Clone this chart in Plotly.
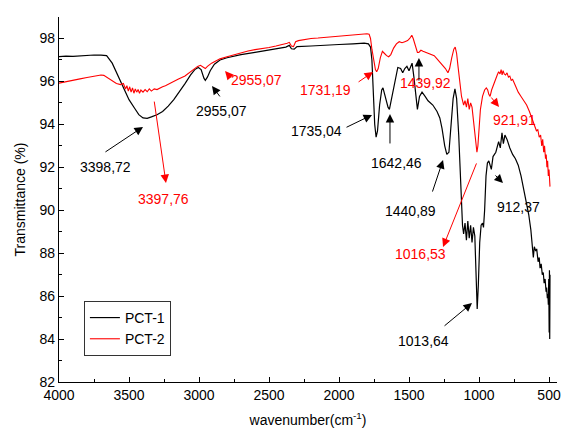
import plotly.graph_objects as go

# ---------------- data ----------------
pct1_wn = [4000, 3950, 3900, 3850, 3800, 3750, 3700, 3660, 3620, 3580, 3540, 3500, 3460, 3430,
           3400, 3370, 3340, 3300, 3260, 3220, 3180, 3140, 3100, 3060, 3030, 3005, 2985, 2965,
           2955, 2940, 2920, 2890, 2850, 2800, 2700, 2600, 2500, 2420, 2380, 2355, 2340, 2320,
           2300, 2200, 2100, 2000, 1900, 1820, 1790, 1775, 1765, 1755, 1745, 1735, 1725, 1710,
           1695, 1686, 1670, 1650, 1640, 1625, 1600, 1580, 1560, 1545, 1530, 1515, 1500, 1490,
           1478, 1465, 1450, 1440, 1425, 1407, 1385, 1364, 1330, 1300, 1280, 1264, 1245, 1230,
           1215, 1200, 1185, 1172, 1160, 1145, 1130, 1118, 1110, 1100, 1090, 1080, 1070, 1060,
           1050, 1040, 1030, 1020, 1013, 1005, 995, 985, 975, 968, 960, 950, 940, 930, 920, 912,
           900, 880, 860, 848, 836, 826, 815, 800, 780, 760, 740, 720, 700, 680, 660, 645, 630,
           620, 612, 605, 595, 588, 578, 570, 564, 556, 548, 541, 535, 528, 521, 517, 512, 508,
           505, 502, 499, 497, 495, 493]
pct1_t = [97.15, 97.18, 97.17, 97.2, 97.22, 97.23, 97.22, 97.2, 96.85, 96.3, 95.7, 95.15, 94.75, 94.45,
          94.3, 94.28, 94.35, 94.45, 94.6, 94.85, 95.15, 95.5, 95.9, 96.3, 96.55, 96.65, 96.55, 96.15,
          96.05, 96.2, 96.5, 96.8, 97.0, 97.1, 97.25, 97.35, 97.45, 97.55, 97.6, 97.68, 97.52, 97.5,
          97.62, 97.65, 97.7, 97.72, 97.75, 97.78, 97.75, 97.6, 97.0, 95.5, 94.0, 93.4, 93.7, 94.9,
          95.6, 95.7, 95.3, 94.8, 94.7, 95.2, 96.1, 96.65, 96.6, 96.4, 96.6, 96.7, 96.5, 96.7,
          96.85, 96.2, 95.2, 94.7, 95.3, 95.5, 95.3, 95.1, 94.9, 94.6, 94.3, 93.8, 93.0, 92.6,
          92.7, 93.8, 95.2, 95.65, 95.2, 93.5, 91.0, 89.3, 88.9, 89.4, 88.6, 89.5, 88.7, 89.3,
          88.5, 89.2, 88.8, 87.0, 85.4, 86.5, 88.5, 89.3, 89.4, 89.2, 90.0, 91.6, 92.2, 92.3, 92.0, 91.9,
          92.5, 92.7, 93.2, 92.9, 93.6, 93.1, 93.5, 93.3, 92.9, 92.6, 92.4, 92.1, 91.6, 91.0, 90.3, 89.8, 89.1,
          88.4, 87.8, 88.3, 88.1, 88.2, 87.6, 87.8, 87.3, 87.5, 87.0, 87.1, 86.6, 86.8, 86.2, 86.4, 85.9, 86.1,
          85.6, 86.8, 84.3, 87.2, 84.0, 87.0]

pct2_wn = [4000, 3980, 3950, 3900, 3850, 3800, 3750, 3700, 3680, 3650, 3620, 3590, 3560, 3540,
           3525, 3515, 3505, 3495, 3485, 3475, 3465, 3455, 3445, 3435, 3425, 3415, 3400, 3385,
           3370, 3355, 3340, 3320, 3300, 3280, 3260, 3240, 3200, 3150, 3100, 3050, 3010, 2990,
           2970, 2955, 2940, 2910, 2880, 2850, 2800, 2750, 2700, 2650, 2600, 2550, 2500, 2450,
           2400, 2370, 2355, 2340, 2325, 2310, 2290, 2250, 2200, 2150, 2100, 2050, 2000, 1950,
           1900, 1850, 1800, 1785, 1775, 1765, 1750, 1740, 1731, 1720, 1705, 1690, 1675, 1660,
           1645, 1630, 1610, 1590, 1570, 1550, 1530, 1510, 1495, 1480, 1470, 1455, 1440, 1430,
           1415, 1400, 1380, 1360, 1340, 1320, 1300, 1280, 1260, 1240, 1222, 1210, 1195, 1180,
           1170, 1160, 1150, 1140, 1125, 1110, 1100, 1090, 1080, 1070, 1060, 1050, 1040, 1030,
           1020, 1015, 1008, 1000, 990, 975, 960, 948, 938, 930, 921, 910, 895, 880, 870, 860,
           850, 842, 835, 828, 820, 810, 800, 790, 780, 770, 760, 750, 740, 720, 700, 680, 660,
           640, 620, 600, 590, 580, 570, 560, 552, 545, 538, 532, 525, 520, 515, 510, 505, 500,
           496, 493]
pct2_t = [95.92, 95.95, 96.0, 96.05, 96.12, 96.18, 96.25, 96.3, 96.28, 96.15, 96.0, 95.9, 95.85, 95.9,
          95.65, 95.8, 95.55, 95.75, 95.5, 95.7, 95.45, 95.65, 95.5, 95.62, 95.45, 95.6, 95.5, 95.62,
          95.52, 95.65, 95.55, 95.65, 95.62, 95.7, 95.75, 95.8, 95.95, 96.1, 96.25, 96.5, 96.7, 96.75,
          96.65, 96.6, 96.7, 96.85, 96.95, 97.05, 97.15, 97.25, 97.35, 97.42, 97.48, 97.52, 97.58, 97.65,
          97.72, 97.78, 97.82, 97.65, 97.62, 97.85, 97.9, 97.95, 98.0, 98.02, 98.05, 98.1, 98.12, 98.15,
          98.18, 98.2, 98.22, 98.2, 98.0, 97.5, 96.9, 96.55, 96.45, 96.6, 97.1, 97.4, 97.3, 97.2,
          97.15, 97.25, 97.55, 97.75, 97.85, 97.8, 97.85, 97.9, 98.0, 98.15, 98.0, 97.7, 97.35, 97.35,
          97.45, 97.4, 97.35, 97.3, 97.25, 97.2, 97.05, 96.9, 96.8, 96.6, 96.4, 96.6, 97.1, 97.5,
          97.6, 97.3, 96.7, 96.0, 95.3, 94.9, 95.1, 94.8, 95.2, 94.7, 95.0, 94.8, 94.2, 93.4,
          92.8, 92.7, 93.0, 93.8, 94.7, 95.3, 95.6, 95.7, 95.6, 95.4, 95.3, 95.6, 95.9, 96.1, 96.3, 96.45,
          96.35, 96.55, 96.3, 96.5, 96.35, 96.3, 96.4, 96.2, 96.25, 96.05, 96.1, 95.95, 95.8, 95.5, 95.3, 95.1, 94.9,
          94.6, 94.2, 93.9, 93.7, 93.75, 93.4, 93.5, 93.0, 93.3, 92.7, 93.0, 92.4, 92.6, 92.0, 92.3, 91.6, 91.9,
          91.2, 91.1]

x_ticks = [4000, 3500, 3000, 2500, 2000, 1500, 1000, 500]
y_ticks = [82, 84, 86, 88, 90, 92, 94, 96, 98]

# peak labels: (text, colour, text_x, text_y)
labels = [
    ("3398,72", "black", 3671, 92.0),
    ("3397,76", "red", 3257, 90.52),
    ("2955,07", "black", 2836, 94.62),
    ("2955,07", "red", 2586, 96.07),
    ("1731,19", "red", 2100, 95.6),
    ("1735,04", "black", 2164, 93.69),
    ("1439,92", "red", 1379, 95.93),
    ("1642,46", "black", 1586, 92.2),
    ("1440,89", "black", 1486, 89.96),
    ("1016,53", "red", 1421, 87.96),
    ("921,91", "red", 750, 94.2),
    ("912,37", "black", 721, 90.15),
    ("1013,64", "black", 1400, 83.91),
]
# arrows: (colour, tail_x, tail_y, head_x, head_y)
arrows = [
    ("black", 3679, 92.67, 3400, 93.88),
    ("red", 3321, 95.13, 3236, 91.27),
    ("black", 2843, 95.23, 2907, 95.79),
    ("red", 2764, 96.11, 2814, 96.48),
    ("red", 1871, 95.93, 1757, 96.44),
    ("black", 1957, 93.83, 1764, 94.44),
    ("black", 1429, 95.97, 1429, 97.09),
    ("black", 1636, 93.04, 1636, 94.48),
    ("black", 1336, 90.8, 1257, 92.34),
    ("red", 1014, 92.25, 1257, 88.29),
    ("red", 921, 95.32, 857, 94.81),
    ("black", 893, 91.69, 829, 91.27),
    ("black", 1257, 84.56, 1050, 85.68),
]

FONT = "Liberation Sans, Arial, sans-serif"

fig = go.Figure()
fig.add_trace(go.Scatter(x=pct1_wn, y=pct1_t, mode="lines", name="PCT-1",
                         line=dict(color="#000000", width=1.2)))
fig.add_trace(go.Scatter(x=pct2_wn, y=pct2_t, mode="lines", name="PCT-2",
                         line=dict(color="#ff0000", width=1.1)))

annotations = []
for text, col, tx, ty in labels:
    annotations.append(dict(x=tx, y=ty, xref="x", yref="y", text=text, showarrow=False,
                            font=dict(family=FONT, size=14, color=col)))
for col, ax_, ay_, hx, hy in arrows:
    annotations.append(dict(x=hx, y=hy, xref="x", yref="y", ax=ax_, ay=ay_, axref="x", ayref="y",
                            text="", showarrow=True, arrowhead=2, arrowsize=1.7, arrowwidth=1,
                            arrowcolor=col))

fig.update_layout(
    width=562, height=428,
    margin=dict(l=59, r=5, t=17, b=46, autoexpand=False),
    paper_bgcolor="white", plot_bgcolor="white",
    font=dict(family=FONT, size=14, color="black"),
    showlegend=True,
    legend=dict(x=0.05, y=0.222, xanchor="left", yanchor="top",
                bordercolor="#333333", borderwidth=1, bgcolor="white",
                font=dict(family=FONT, size=14, color="black"),
                tracegroupgap=0, itemwidth=30),
    annotations=annotations,
)
fig.update_xaxes(range=[4000, 443], tickvals=x_ticks, ticktext=[str(v) for v in x_ticks],
                 automargin=False,
                 showline=True, linecolor="black", linewidth=1.3, mirror=False,
                 ticks="inside", ticklen=5, tickcolor="black", tickwidth=1,
                 minor=dict(dtick=250, tick0=0, ticks="inside", ticklen=3, tickcolor="black"),
                 showgrid=False, zeroline=False,
                 title=dict(text="wavenumber(cm<sup>-1</sup>)", standoff=19,
                            font=dict(family=FONT, size=14)),
                 tickfont=dict(family=FONT, size=14))
fig.update_yaxes(range=[82, 99], tickvals=y_ticks, ticktext=[str(v) for v in y_ticks],
                 automargin=False,
                 showline=True, linecolor="black", linewidth=1.3, mirror=False,
                 ticks="inside", ticklen=5, tickcolor="black", tickwidth=1,
                 minor=dict(dtick=1, tick0=82, ticks="inside", ticklen=3, tickcolor="black"),
                 showgrid=False, zeroline=False,
                 title=dict(text="Transmittance (%)", standoff=10,
                            font=dict(family=FONT, size=14)),
                 tickfont=dict(family=FONT, size=14))

fig.write_html("out.html", config={"displayModeBar": False},
               post_script="document.body.style.margin='0';document.body.style.overflow='hidden';")
